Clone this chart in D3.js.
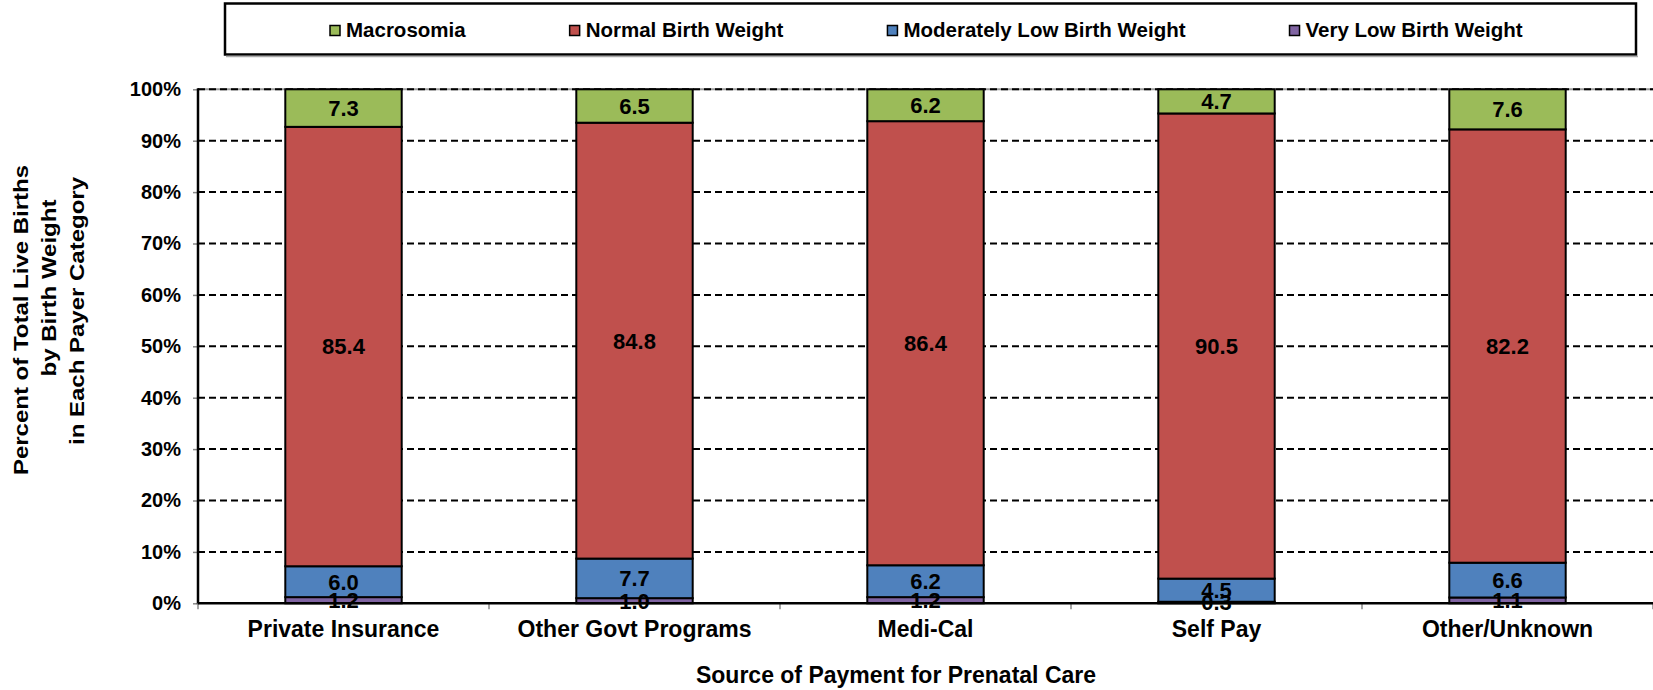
<!DOCTYPE html>
<html>
<head>
<meta charset="UTF-8">
<title>Birth Weight by Payer</title>
<script src="https://d3js.org/d3.v7.min.js"></script>
<style>
  body { margin: 0; background: #fff; }
  svg text { font-family: "Liberation Sans", Arial, sans-serif; font-weight: bold; fill: #000; }
</style>
</head>
<body>
<div id="chart"></div>
<script>
  // data
  let categories = ["Private Insurance", "Other Govt Programs", "Medi-Cal", "Self Pay", "Other/Unknown"];
  let veryLow    = [1.2, 1.0, 1.2, 0.3, 1.1];
  let modLow     = [6.0, 7.7, 6.2, 4.5, 6.6];
  let normal     = [85.4, 84.8, 86.4, 90.5, 82.2];
  let macrosomia = [7.3, 6.5, 6.2, 4.7, 7.6];
  let yTicks = [0, 10, 20, 30, 40, 50, 60, 70, 80, 90, 100];

  let seriesNames  = ["Very Low Birth Weight", "Moderately Low Birth Weight", "Normal Birth Weight", "Macrosomia"];
  let seriesValues = [veryLow, modLow, normal, macrosomia];
  let colors = ["#8064A2", "#4F81BD", "#C0504D", "#9BBB59"];

  let width = 1653, height = 690;
  let plotLeft = 198, plotRight = 1653, plotTop = 89.3, plotBottom = 603.3;

  let svg = d3.select("#chart").append("svg")
      .attr("width", width)
      .attr("height", height);

  // rows for d3.stack
  let rows = categories.map((c, i) => {
    let r = { cat: c };
    seriesNames.forEach((s, j) => r[s] = seriesValues[j][i]);
    return r;
  });

  // 100% stacked, like the original
  let stacked = d3.stack()
      .keys(seriesNames)
      .offset(d3.stackOffsetExpand)(rows);

  let x = d3.scaleBand()
      .domain(categories)
      .range([plotLeft, plotRight])
      .paddingInner(0.6)
      .paddingOuter(0.3);

  let y = d3.scaleLinear()
      .domain([0, 1])
      .range([plotBottom, plotTop]);

  // gridlines
  svg.append("line")
      .attr("x1", plotLeft).attr("x2", plotRight)
      .attr("y1", y(1)).attr("y2", y(1))
      .attr("stroke", "#999").attr("stroke-width", 2);

  svg.append("g")
    .selectAll("line")
    .data(yTicks.filter(t => t > 0))
    .join("line")
      .attr("x1", plotLeft).attr("x2", plotRight)
      .attr("y1", d => y(d / 100)).attr("y2", d => y(d / 100))
      .attr("stroke", "#000")
      .attr("stroke-width", 2)
      .attr("stroke-dasharray", "7,4");

  // bars
  let layer = svg.append("g")
    .selectAll("g")
    .data(stacked)
    .join("g")
      .attr("fill", (d, i) => colors[i]);

  layer.selectAll("rect")
    .data(d => d)
    .join("rect")
      .attr("x", d => x(d.data.cat))
      .attr("width", x.bandwidth())
      .attr("y", d => y(d[1]))
      .attr("height", d => y(d[0]) - y(d[1]))
      .attr("stroke", "#000")
      .attr("stroke-width", 2);

  // value labels
  svg.append("g")
    .selectAll("g")
    .data(stacked)
    .join("g")
    .selectAll("text")
    .data((d, i) => d.map((p, k) => ({ p: p, v: seriesValues[i][k] })))
    .join("text")
      .attr("x", d => x(d.p.data.cat) + x.bandwidth() / 2)
      .attr("y", d => (y(d.p[0]) + y(d.p[1])) / 2)
      .attr("dy", "0.36em")
      .attr("text-anchor", "middle")
      .attr("font-size", 22)
      .text(d => d.v.toFixed(1));

  // axes
  let yAxis = svg.append("g")
      .attr("transform", `translate(${plotLeft},0)`)
      .call(d3.axisLeft(y).tickValues(yTicks.map(t => t / 100)).tickFormat(d3.format(".0%")).tickSize(5).tickPadding(12));
  yAxis.select(".domain").remove();
  yAxis.selectAll(".tick line").attr("stroke", "#888").attr("stroke-width", 1.5);
  yAxis.selectAll(".tick text").attr("font-size", 20).attr("font-family", null);

  svg.append("line")
      .attr("x1", plotLeft).attr("x2", plotLeft)
      .attr("y1", plotTop - 1).attr("y2", plotBottom + 1)
      .attr("stroke", "#000").attr("stroke-width", 2.5);

  let step = x.step();
  let boundaries = d3.range(categories.length + 1).map(i => plotLeft + i * step);
  svg.append("g")
    .selectAll("line")
    .data(boundaries)
    .join("line")
      .attr("x1", d => d).attr("x2", d => d)
      .attr("y1", plotBottom).attr("y2", plotBottom + 6)
      .attr("stroke", "#888").attr("stroke-width", 1.5);

  svg.append("line")
      .attr("x1", plotLeft).attr("x2", plotRight)
      .attr("y1", plotBottom).attr("y2", plotBottom)
      .attr("stroke", "#000").attr("stroke-width", 2.5);

  svg.append("g")
    .selectAll("text")
    .data(categories)
    .join("text")
      .attr("x", d => x(d) + x.bandwidth() / 2)
      .attr("y", 637)
      .attr("text-anchor", "middle")
      .attr("font-size", 23)
      .text(d => d);

  // axis titles
  svg.append("text")
      .attr("x", 896)
      .attr("y", 683)
      .attr("text-anchor", "middle")
      .attr("font-size", 23)
      .text("Source of Payment for Prenatal Care");

  let yTitle = ["Percent of Total Live Births", "by Birth Weight", "in Each Payer Category"];
  let yTitleMid = [320, 288, 311];
  svg.append("g")
    .selectAll("text")
    .data(yTitle)
    .join("text")
      .attr("transform", (d, i) => `translate(${28 + i * 28},${yTitleMid[i]}) rotate(-90) scale(1,0.85)`)
      .attr("text-anchor", "middle")
      .attr("font-size", 24)
      .text(d => d);

  // legend
  svg.append("rect")
      .attr("x", 225).attr("y", 3.5)
      .attr("width", 1411).attr("height", 51)
      .attr("fill", "#fff")
      .attr("stroke", "#000")
      .attr("stroke-width", 2.5);
  svg.append("line")
      .attr("x1", 226).attr("x2", 1638)
      .attr("y1", 56.5).attr("y2", 56.5)
      .attr("stroke", "#aaa").attr("stroke-width", 1.5);

  let legendOrder = [3, 2, 1, 0];
  let lx = 330;
  let legend = svg.append("g");
  legendOrder.forEach(j => {
    legend.append("rect")
        .attr("x", lx).attr("y", 25.5)
        .attr("width", 10).attr("height", 10)
        .attr("fill", colors[j])
        .attr("stroke", "#000").attr("stroke-width", 1.5);
    let t = legend.append("text")
        .attr("x", lx + 16).attr("y", 37)
        .attr("font-size", 20.5)
        .text(seriesNames[j]);
    lx += 16 + t.node().getComputedTextLength() + 104;
  });
</script>
</body>
</html>
